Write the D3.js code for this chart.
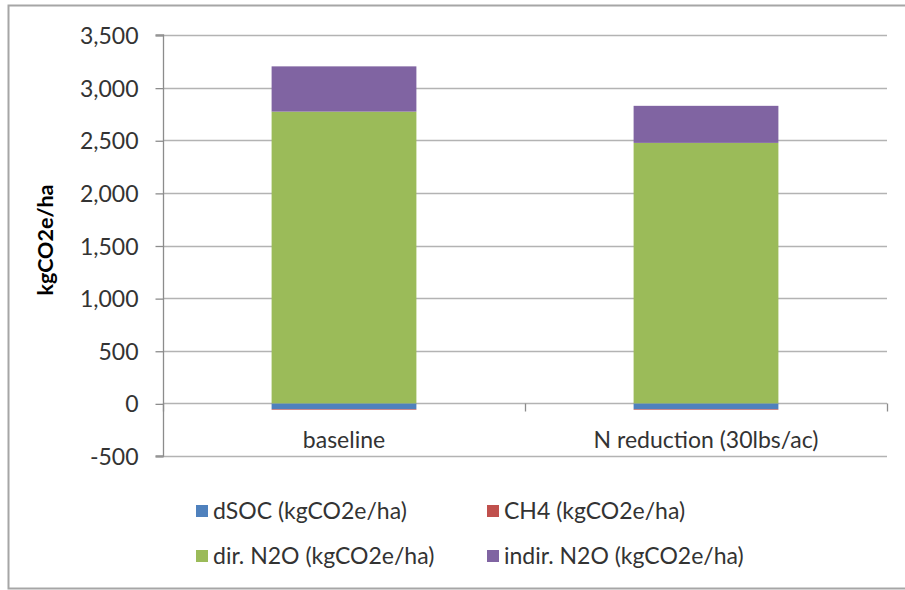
<!DOCTYPE html>
<html><head><meta charset="utf-8">
<script src="https://cdn.jsdelivr.net/npm/d3@7/dist/d3.min.js"></script>
<style>body{margin:0;background:#fff}svg{display:block}text{font-family:Lato,"Open Sans",sans-serif}</style>
</head><body>
<svg id="c" width="905" height="590"></svg>
<script>
const categories = ["baseline", "N reduction (30lbs/ac)"];
const seriesNames = ["dSOC (kgCO2e/ha)", "CH4 (kgCO2e/ha)", "dir. N2O (kgCO2e/ha)", "indir. N2O (kgCO2e/ha)"];
const dSOC = [-55, -55];
const CH4 = [-6, -6];
const dirN2O = [2772, 2475];
const indirN2O = [430, 352];
const colors = ["#4F81BD", "#C0504D", "#9BBB59", "#8064A2"];
const yTicks = [-500, 0, 500, 1000, 1500, 2000, 2500, 3000, 3500];

const rows = categories.map((c, i) => ({cat: c, s0: dSOC[i], s1: CH4[i], s2: dirN2O[i], s3: indirN2O[i]}));
const keys = ["s0", "s1", "s2", "s3"];
const stacked = d3.stack().keys(keys).offset(d3.stackOffsetDiverging)(rows);

const FS = 23;
const svg = d3.select("#c");
svg.append("rect").attr("x", 8.5).attr("y", 5.5).attr("width", 920).attr("height", 583)
  .attr("fill", "#fff").attr("stroke", "#a6a6a6").attr("stroke-width", 2);

const x = d3.scaleBand().domain(categories).range([163, 887]).paddingInner(0.6).paddingOuter(0.3);
const y = d3.scaleLinear().domain([-500, 3500]).range([456, 35]);

// gridlines
svg.append("g").selectAll("line").data(yTicks).join("line")
  .attr("x1", 163).attr("x2", 887)
  .attr("y1", d => Math.round(y(d)) + 0.5).attr("y2", d => Math.round(y(d)) + 0.5)
  .attr("stroke", "#b3b3b3").attr("stroke-width", 1.3);

// bars
svg.append("g").selectAll("g").data(stacked).join("g")
  .attr("fill", (d, i) => colors[i])
  .selectAll("rect").data(d => d).join("rect")
  .attr("x", d => x(d.data.cat))
  .attr("width", x.bandwidth())
  .attr("y", d => y(Math.max(d[0], d[1])))
  .attr("height", d => Math.abs(y(d[0]) - y(d[1])));

// y axis
const fmt = d3.format(",");
const yAxis = d3.axisLeft(y).tickValues(yTicks).tickSize(8).tickPadding(17)
  .tickFormat(d => fmt(d).replace("\u2212", "-"));
const gy = svg.append("g").attr("transform", "translate(163.5,0.5)").call(yAxis);
gy.select(".domain").attr("stroke", "#8c8c8c").attr("stroke-width", 1.3).attr("d", `M-8,${y(3500)-0.5}H0V${y(-500)-0.5}H-8`);
gy.selectAll(".tick line").attr("stroke", "#8c8c8c").attr("stroke-width", 1.3);
gy.selectAll(".tick text").attr("font-size", FS).attr("fill", "#333").attr("font-family", "Lato,sans-serif").attr("dy", "0.35em");

// category axis at zero
const y0 = Math.round(y(0)) + 0.5;
const xAxis = svg.append("g");
xAxis.selectAll("line.t").data([163, 525, 887]).join("line")
  .attr("x1", d => d + 0.5).attr("x2", d => d + 0.5).attr("y1", y0).attr("y2", y0 + 8)
  .attr("stroke", "#8c8c8c").attr("stroke-width", 1.3);
xAxis.selectAll("text").data(categories).join("text")
  .attr("x", d => x(d) + x.bandwidth() / 2).attr("y", 440).attr("dy", "0.35em")
  .attr("text-anchor", "middle").attr("font-size", FS).attr("fill", "#333")
  .text(d => d);

// y title
svg.append("text").attr("transform", "translate(45,240) rotate(-90)")
  .attr("text-anchor", "middle").attr("dy", "0.35em").attr("font-size", 21.5).attr("font-weight", "bold").attr("fill", "#000")
  .text("kgCO2e/ha");

// legend
const legPos = [[196, 511], [487, 511], [196, 556], [487, 556]];
const leg = svg.append("g").selectAll("g").data(seriesNames).join("g")
  .attr("transform", (d, i) => `translate(${legPos[i][0]},${legPos[i][1]})`);
leg.append("rect").attr("x", 0).attr("y", -6).attr("width", 12).attr("height", 12).attr("fill", (d, i) => colors[i]);
leg.append("text").attr("x", 17).attr("y", 0).attr("dy", "0.35em").attr("font-size", FS).attr("fill", "#333").text(d => d);
</script>
</body></html>
